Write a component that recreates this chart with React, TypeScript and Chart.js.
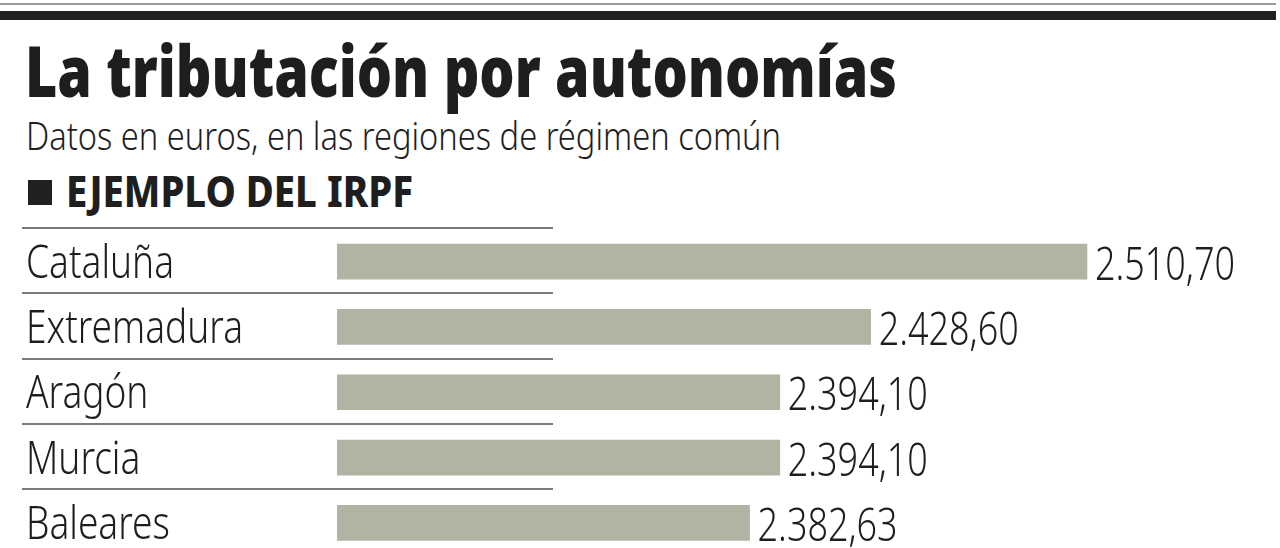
import React, { useEffect, useRef } from "react";
import { Chart, registerables } from "chart.js";

Chart.register(...registerables);

const categories = ["Cataluña", "Extremadura", "Aragón", "Murcia", "Baleares"];
const values = [2510.7, 2428.6, 2394.1, 2394.1, 2382.63];
const valueLabels = ["2.510,70", "2.428,60", "2.394,10", "2.394,10", "2.382,63"];
const axisMin = 2226;
const axisMax = 2568.8;

const TITLE = "La tributación por autonomías";
const SUBTITLE = "Datos en euros, en las regiones de régimen común";
const SECTION = "EJEMPLO DEL IRPF";

const FAMILY = '"Noto Sans", "Open Sans", sans-serif';
const TEXT = "#1e1e1e";
const LABEL_SIZE = 45;

const measureCtx: CanvasRenderingContext2D | null =
  typeof document !== "undefined" ? document.createElement("canvas").getContext("2d") : null;

function fitScale(text: string, font: string, target: number): number {
  if (!measureCtx) return 1;
  measureCtx.font = font;
  const w = measureCtx.measureText(text).width;
  return w > 0 ? target / w : 1;
}

const rowPlugin = {
  id: "rows",
  beforeDatasetsDraw(chart: any) {
    const { ctx } = chart;
    const y = chart.scales.y;
    ctx.save();
    ctx.strokeStyle = "#7b7b7b";
    ctx.lineWidth = 2;
    for (let i = 0; i < categories.length; i++) {
      const py = Math.round(y.getPixelForValue(i - 0.5)) - 1;
      ctx.beginPath();
      ctx.moveTo(22, py);
      ctx.lineTo(553, py);
      ctx.stroke();
    }
    ctx.restore();
  },
  afterDatasetsDraw(chart: any) {
    const { ctx } = chart;
    const meta = chart.getDatasetMeta(0);
    const font = `300 ${LABEL_SIZE}px ${FAMILY}`;
    const catScale = fitScale("Extremadura", font, 217);
    const valScale = fitScale("2.510,70", font, 140);
    ctx.save();
    ctx.font = font;
    ctx.fillStyle = TEXT;
    ctx.textAlign = "left";
    ctx.textBaseline = "alphabetic";
    meta.data.forEach((bar: any, i: number) => {
      ctx.save();
      ctx.translate(26, bar.y + 16);
      ctx.scale(catScale, 1);
      ctx.fillText(categories[i], 0, 0);
      ctx.restore();
      ctx.save();
      ctx.translate(bar.x + 8, bar.y + 18);
      ctx.scale(valScale, 1);
      ctx.fillText(valueLabels[i], 0, 0);
      ctx.restore();
    });
    ctx.restore();
  },
};

export default function App() {
  const ref = useRef<HTMLCanvasElement | null>(null);

  useEffect(() => {
    document.body.style.margin = "0";
    if (!ref.current) return;
    const chart = new Chart(ref.current, {
      type: "bar",
      data: {
        labels: categories,
        datasets: [
          {
            data: values,
            backgroundColor: "#b1b4a3",
            borderWidth: 0,
            barThickness: 35,
          },
        ],
      },
      options: {
        indexAxis: "y",
        responsive: false,
        animation: false,
        devicePixelRatio: 1,
        layout: { padding: { left: 337, top: 229, right: 40, bottom: 4.5 } },
        plugins: {
          legend: { display: false },
          tooltip: { enabled: false },
          title: { display: false },
        },
        scales: {
          x: {
            display: false,
            min: axisMin,
            max: axisMax,
            beginAtZero: false,
          },
          y: {
            display: false,
          },
        },
      },
      plugins: [rowPlugin],
    });
    return () => chart.destroy();
  }, []);

  const titleFont = `900 70px ${FAMILY}`;
  const subFont = `300 39px ${FAMILY}`;
  const secFont = `800 42px ${FAMILY}`;
  const titleSx = fitScale(TITLE, titleFont, 872);
  const subSx = fitScale(SUBTITLE, subFont, 755);
  const secSx = fitScale(SECTION, secFont, 347);

  const abs = (o: React.CSSProperties): React.CSSProperties => ({
    position: "absolute",
    margin: 0,
    whiteSpace: "nowrap",
    lineHeight: 1,
    color: TEXT,
    fontFamily: FAMILY,
    transformOrigin: "left top",
    ...o,
  });

  return (
    <div
      style={{
        position: "fixed",
        left: 0,
        top: 0,
        width: 1280,
        height: 548,
        overflow: "hidden",
        background: "#ffffff",
      }}
    >
      <div style={{ position: "absolute", left: 0, top: 3, width: 1276, height: 2, background: "#9a9a9a" }} />
      <div style={{ position: "absolute", left: 0, top: 11, width: 1276, height: 9, background: "#1f201f" }} />
      <div style={abs({ left: 25, top: 34.8, fontSize: 70, fontWeight: 900, transform: `scaleX(${titleSx})` })}>
        {TITLE}
      </div>
      <div style={abs({ left: 26, top: 115.4, fontSize: 39, fontWeight: 300, transform: `scaleX(${subSx})` })}>
        {SUBTITLE}
      </div>
      <div style={{ position: "absolute", left: 28, top: 180, width: 24, height: 25, background: "#1f201f" }} />
      <div style={abs({ left: 66, top: 169.7, fontSize: 42, fontWeight: 800, transform: `scaleX(${secSx})` })}>
        {SECTION}
      </div>
      <canvas
        ref={ref}
        width={1280}
        height={560}
        style={{ position: "absolute", left: 0, top: 0, width: 1280, height: 560 }}
      />
    </div>
  );
}
